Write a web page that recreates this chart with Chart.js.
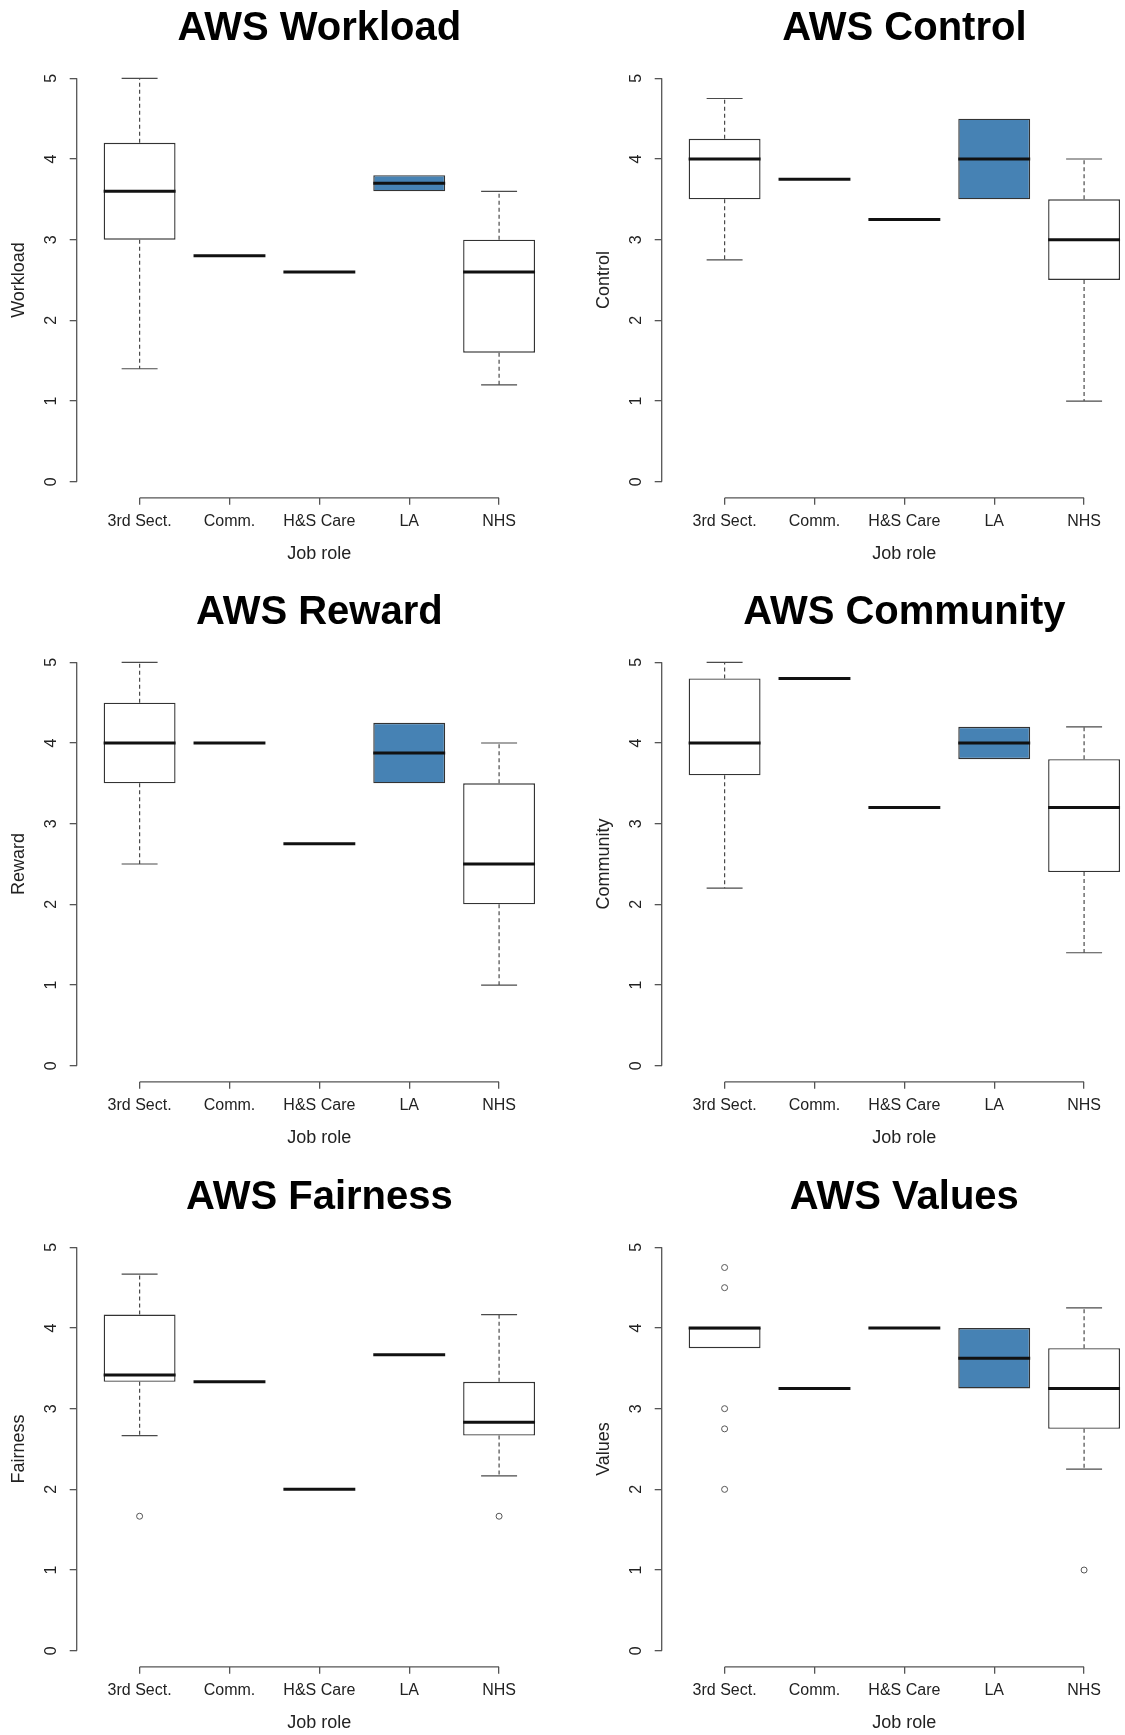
<!DOCTYPE html>
<html>
<head>
<meta charset="utf-8">
<title>AWS scores by job role</title>
<script src="https://cdn.jsdelivr.net/npm/chart.js@4.4.1/dist/chart.umd.min.js"></script>
<style>
  html, body { margin: 0; padding: 0; background: #ffffff; overflow: hidden; width: 1125px; height: 1735px; }
  canvas.panel { position: absolute; }
</style>
</head>
<body>
<script>
// Job roles on the x axis and the highlighted group
const roles = ['3rd Sect.', 'Comm.', 'H&S Care', 'LA', 'NHS'];
const highlightRole = 'LA';
const yTickValues = [0, 1, 2, 3, 4, 5];

// Per role: [lower whisker, Q1, median, Q3, upper whisker]
const workloadStats = [[1.4, 3.0, 3.6, 4.2, 5.0], [2.8, 2.8, 2.8, 2.8, 2.8], [2.6, 2.6, 2.6, 2.6, 2.6], [3.6, 3.6, 3.7, 3.8, 3.8], [1.2, 1.6, 2.6, 3.0, 3.6]];
const controlStats = [[2.75, 3.5, 4.0, 4.25, 4.75], [3.75, 3.75, 3.75, 3.75, 3.75], [3.25, 3.25, 3.25, 3.25, 3.25], [3.5, 3.5, 4.0, 4.5, 4.5], [1.0, 2.5, 3.0, 3.5, 4.0]];
const rewardStats = [[2.5, 3.5, 4.0, 4.5, 5.0], [4.0, 4.0, 4.0, 4.0, 4.0], [2.75, 2.75, 2.75, 2.75, 2.75], [3.5, 3.5, 3.875, 4.25, 4.25], [1.0, 2.0, 2.5, 3.5, 4.0]];
const communityStats = [[2.2, 3.6, 4.0, 4.8, 5.0], [4.8, 4.8, 4.8, 4.8, 4.8], [3.2, 3.2, 3.2, 3.2, 3.2], [3.8, 3.8, 4.0, 4.2, 4.2], [1.4, 2.4, 3.2, 3.8, 4.2]];
const fairnessStats = [[2.667, 3.333, 3.417, 4.167, 4.667], [3.333, 3.333, 3.333, 3.333, 3.333], [2.0, 2.0, 2.0, 2.0, 2.0], [3.667, 3.667, 3.667, 3.667, 3.667], [2.167, 2.667, 2.833, 3.333, 4.167]];
const valuesStats = [[3.75, 3.75, 4.0, 4.0, 4.0], [3.25, 3.25, 3.25, 3.25, 3.25], [4.0, 4.0, 4.0, 4.0, 4.0], [3.25, 3.25, 3.625, 4.0, 4.0], [2.25, 2.75, 3.25, 3.75, 4.25]];

// Outliers: [role index, value]
const workloadOutliers = [];
const controlOutliers = [];
const rewardOutliers = [];
const communityOutliers = [];
const fairnessOutliers = [[0, 1.667], [4, 1.667]];
const valuesOutliers = [[0, 4.75], [0, 4.5], [0, 3.0], [0, 2.75], [0, 2.0], [4, 1.0]];

const panels = [
  { title: 'AWS Workload', yLabel: 'Workload', stats: workloadStats, outliers: workloadOutliers },
  { title: 'AWS Control', yLabel: 'Control', stats: controlStats, outliers: controlOutliers },
  { title: 'AWS Reward', yLabel: 'Reward', stats: rewardStats, outliers: rewardOutliers },
  { title: 'AWS Community', yLabel: 'Community', stats: communityStats, outliers: communityOutliers },
  { title: 'AWS Fairness', yLabel: 'Fairness', stats: fairnessStats, outliers: fairnessOutliers },
  { title: 'AWS Values', yLabel: 'Values', stats: valuesStats, outliers: valuesOutliers }
];

const FONT = "'Liberation Sans', Arial, Helvetica, sans-serif";
const BOX_WIDTH = 0.8;
const PANEL_W = 562, PANEL_H = 584;
const colLeft = [0, 585];
const rowTop = [0, 584, 1169];

// Whiskers, staples, medians and the two axis lines (R-style axes that stop at the end ticks)
const boxParts = {
  id: 'boxParts',
  afterDatasetsDraw(chart) {
    const { ctx, chartArea, scales: { x, y } } = chart;
    const stats = chart.data.datasets[0].stats;
    const seg = (x1, y1, x2, y2) => { ctx.beginPath(); ctx.moveTo(x1, y1); ctx.lineTo(x2, y2); ctx.stroke(); };
    ctx.save();
    ctx.lineCap = 'butt';
    stats.forEach((s, i) => {
      const [lo, q1, med, q3, hi] = s;
      const cx = x.getPixelForValue(i + 1);
      const halfBox = x.getPixelForValue(i + 1 + BOX_WIDTH / 2) - cx;
      const halfStaple = halfBox / 2;
      ctx.strokeStyle = '#4a4a4a';
      ctx.lineWidth = 1.2;
      ctx.setLineDash([4, 3]);
      if (hi > q3) seg(cx, y.getPixelForValue(q3), cx, y.getPixelForValue(hi));
      if (lo < q1) seg(cx, y.getPixelForValue(q1), cx, y.getPixelForValue(lo));
      ctx.setLineDash([]);
      if (hi > q3) seg(cx - halfStaple, y.getPixelForValue(hi), cx + halfStaple, y.getPixelForValue(hi));
      if (lo < q1) seg(cx - halfStaple, y.getPixelForValue(lo), cx + halfStaple, y.getPixelForValue(lo));
      ctx.strokeStyle = '#111111';
      ctx.lineWidth = 3;
      seg(cx - halfBox, y.getPixelForValue(med), cx + halfBox, y.getPixelForValue(med));
    });
    ctx.strokeStyle = '#555555';
    ctx.lineWidth = 1.3;
    seg(chartArea.left, y.getPixelForValue(yTickValues[0]), chartArea.left, y.getPixelForValue(yTickValues[yTickValues.length - 1]));
    seg(x.getPixelForValue(1), chartArea.bottom, x.getPixelForValue(roles.length), chartArea.bottom);
    ctx.restore();
  }
};

panels.forEach((p, k) => {
  const canvas = document.createElement('canvas');
  canvas.className = 'panel';
  canvas.width = PANEL_W;
  canvas.height = PANEL_H;
  canvas.style.left = colLeft[k % 2] + 'px';
  canvas.style.top = rowTop[Math.floor(k / 2)] + 'px';
  document.body.appendChild(canvas);

  new Chart(canvas, {
    type: 'bar',
    data: {
      datasets: [
        {
          type: 'bar',
          stats: p.stats,
          data: p.stats.map((s, i) => ({ x: i + 1, y: [s[1], s[3]] })),
          backgroundColor: roles.map(r => r === highlightRole ? '#4682B4' : '#ffffff'),
          borderColor: '#333333',
          borderWidth: 1.4,
          borderSkipped: false,
          categoryPercentage: 1,
          barPercentage: BOX_WIDTH
        },
        {
          type: 'scatter',
          data: p.outliers.map(o => ({ x: o[0] + 1, y: o[1] })),
          pointRadius: 3,
          pointBorderWidth: 1,
          pointBorderColor: '#555555',
          pointBackgroundColor: 'rgba(0,0,0,0)'
        }
      ]
    },
    options: {
      responsive: false,
      animation: false,
      devicePixelRatio: 1,
      layout: { padding: 0, autoPadding: false },
      plugins: {
        legend: { display: false },
        tooltip: { enabled: false },
        title: {
          display: true,
          text: p.title,
          fullSize: false,
          color: '#000000',
          font: { family: FONT, size: 40, weight: 'bold' },
          padding: { top: 5, bottom: 9.2 }
        }
      },
      scales: {
        x: {
          type: 'linear',
          min: 0.3,
          max: roles.length + 0.7,
          offset: false,
          afterBuildTicks: (scale) => { scale.ticks = roles.map((r, i) => ({ value: i + 1 })); },
          afterFit: (scale) => { scale.height = 86.16; },
          ticks: {
            autoSkip: false,
            maxRotation: 0,
            minRotation: 0,
            padding: 7.5,
            color: '#222222',
            font: { family: FONT, size: 16 },
            callback: (v) => roles[v - 1]
          },
          grid: { display: true, offset: false, drawOnChartArea: false, drawTicks: true, tickLength: 7, color: '#555555', lineWidth: 1.3 },
          border: { display: false },
          title: {
            display: true,
            text: 'Job role',
            color: '#222222',
            font: { family: FONT, size: 18 },
            padding: { top: 0, bottom: 19.2 }
          }
        },
        y: {
          type: 'linear',
          min: -0.2,
          max: 5.2,
          afterBuildTicks: (scale) => { scale.ticks = yTickValues.map(v => ({ value: v })); },
          afterFit: (scale) => { scale.width = 76.7; },
          ticks: {
            minRotation: 90,
            maxRotation: 90,
            crossAlign: 'center',
            padding: 13.5,
            color: '#222222',
            font: { family: FONT, size: 16 },
            callback: (v) => String(v)
          },
          grid: { display: true, drawOnChartArea: false, drawTicks: true, tickLength: 7, color: '#555555', lineWidth: 1.3 },
          border: { display: false },
          title: {
            display: true,
            text: p.yLabel,
            color: '#222222',
            font: { family: FONT, size: 18 },
            padding: { top: 8.2, bottom: 0 }
          }
        }
      }
    },
    plugins: [boxParts]
  });
});
</script>
</body>
</html>
